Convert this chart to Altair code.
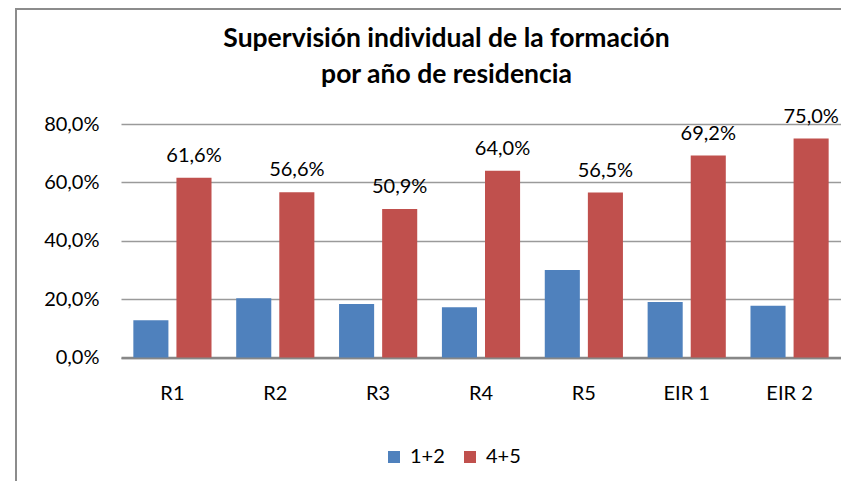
import altair as alt
import pandas as pd

categories = ["R1", "R2", "R3", "R4", "R5", "EIR 1", "EIR 2"]
series = ["1+2", "4+5"]
values_12 = [12.8, 20.3, 18.3, 17.2, 30.0, 19.0, 17.7]
values_45 = [61.6, 56.6, 50.9, 64.0, 56.5, 69.2, 75.0]
y_ticks = [0, 20, 40, 60, 80]
colors = ["#4F81BD", "#C0504D"]

rows = []
for c, a, b in zip(categories, values_12, values_45):
    rows.append({"cat": c, "serie": "1+2", "v": a / 100})
    rows.append({"cat": c, "serie": "4+5", "v": b / 100})
df = pd.DataFrame(rows)

FONT = "Lato"
FS = 20

x = alt.X("cat:N", sort=categories, title=None,
          scale=alt.Scale(paddingInner=0.24, paddingOuter=0.12),
          axis=alt.Axis(labelAngle=0, ticks=False, labelPadding=26, labelFontSize=FS,
                        labelColor="#000", domainColor="#878787", domainWidth=2.5,
                        grid=False, labelFont=FONT))
xo = alt.XOffset("serie:N", sort=series, scale=alt.Scale(paddingInner=0.186, paddingOuter=0))
y = alt.Y("v:Q", title=None,
          scale=alt.Scale(domain=[0, 0.8], nice=False),
          axis=alt.Axis(values=[t / 100 for t in y_ticks],
                        labelExpr="replace(format(datum.value, '.1%'), '.', ',')",
                        ticks=False, domain=False, gridColor="#9A9A9A", gridWidth=1.5,
                        labelFontSize=FS, labelColor="#000", labelPadding=22, labelFont=FONT))

bars = alt.Chart(df).mark_bar().encode(
    x=x, xOffset=xo, y=y,
    color=alt.Color("serie:N", sort=series, title=None,
                    scale=alt.Scale(domain=series, range=colors),
                    legend=alt.Legend(orient="none", legendX=263, legendY=323,
                                      direction="horizontal", symbolType="square",
                                      symbolSize=144, symbolStrokeWidth=0,
                                      labelFontSize=FS, labelFont=FONT, labelColor="#000",
                                      labelOffset=6, columnPadding=15)),
)

labels = alt.Chart(df).transform_filter(alt.datum.serie == "4+5").transform_calculate(
    lbl="replace(format(datum.v, '.1%'), '.', ',')"
).mark_text(
    baseline="alphabetic", dy=-16, fontSize=FS, font=FONT, color="#000"
).encode(x=x, xOffset=xo, y=y, text="lbl:N")

frame_left = alt.Chart(df).mark_rule(color="#8C8C8C", strokeWidth=2).encode(
    x=alt.value(-105), y=alt.value(-115), y2=alt.value(400))
frame_top = alt.Chart(df).mark_rule(color="#8C8C8C", strokeWidth=2).encode(
    x=alt.value(-106), x2=alt.value(800), y=alt.value(-115))

chart = alt.layer(bars, labels, frame_left, frame_top).properties(
    width=720, height=233.5,
    autosize=alt.AutoSizeParams(type="none"),
    padding={"left": 113, "top": 116, "right": 0, "bottom": 123},
    title=alt.TitleParams(["Supervisión individual de la formación", "por año de residencia"],
                          fontSize=26.5, font=FONT, fontWeight="bold", color="#000",
                          anchor="middle", dx=-34.5, lineHeight=36, offset=0, dy=80),
).configure_view(stroke=None)

chart.save("out.html", embed_options={"renderer": "svg", "actions": False})
